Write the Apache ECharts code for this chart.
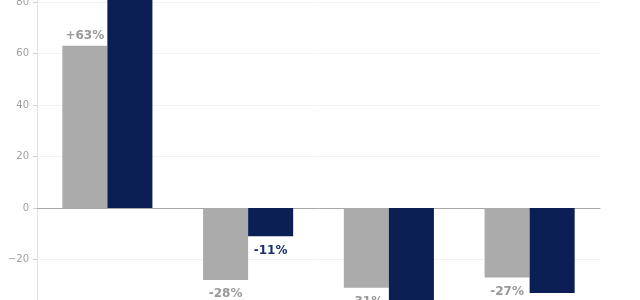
<!DOCTYPE html>
<html>
<head>
<meta charset="utf-8">
<script src="https://cdn.jsdelivr.net/npm/echarts@6/dist/echarts.min.js"></script>
<style>html,body{margin:0;padding:0;background:#fff;}#c{width:640px;height:300px;}</style>
</head>
<body>
<div id="c"></div>
<script>
const categories = ['A', 'B', 'C', 'D'];
const greyValues = [63, -28, -31, -27];
const navyValues = [95, -11, -45, -33];
const greyLabels = ['+63%', '-28%', '-31%', '-27%'];
const navyLabels = ['+95%', '-11%', '-45%', '-33%'];
const yTicks = { min: -40, max: 100, interval: 20 };

const GREY = '#ababab';
const NAVY = '#0b1f55';

function mk(values, labels, labelColor, upDist, downDist) {
  return values.map((v, i) => ({
    value: v,
    label: {
      show: true,
      position: v >= 0 ? 'top' : 'bottom',
      distance: v >= 0 ? upDist : downDist,
      formatter: labels[i],
      color: labelColor,
      fontWeight: 'bold',
      fontSize: 12,
      fontFamily: 'DejaVu Sans'
    }
  }));
}

const chart = echarts.init(document.getElementById('c'));
chart.setOption({
  animation: false,
  grid: { left: 37, right: 40, top: -49.5, bottom: -11, containLabel: false, outerBoundsMode: 'none' },
  xAxis: {
    type: 'category',
    data: categories,
    axisLine: { show: true, onZero: true, lineStyle: { color: '#a8a8a8', width: 1 } },
    axisTick: { show: false },
    axisLabel: { show: false },
    splitLine: { show: false }
  },
  yAxis: {
    type: 'value',
    min: yTicks.min,
    max: yTicks.max,
    interval: yTicks.interval,
    axisLine: { show: true, lineStyle: { color: '#e0e0e0', width: 1 } },
    axisTick: { show: true, length: 4, lineStyle: { color: '#d0d0d0' } },
    axisLabel: {
      color: '#a0a0a0',
      fontSize: 10,
      fontFamily: 'DejaVu Sans',
      margin: 8,
      formatter: v => String(v).replace('-', '\u2212')
    },
    splitLine: { show: true, lineStyle: { color: '#f2f2f2', width: 1 } }
  },
  series: [
    {
      type: 'bar',
      data: mk(greyValues, greyLabels, '#999999', 4, 8),
      itemStyle: { color: GREY },
      barGap: '0%',
      barCategoryGap: '36%'
    },
    {
      type: 'bar',
      data: mk(navyValues, navyLabels, '#1c2f6b', 4, 9),
      itemStyle: { color: NAVY },
      barGap: '0%',
      barCategoryGap: '36%'
    }
  ]
});
</script>
</body>
</html>
